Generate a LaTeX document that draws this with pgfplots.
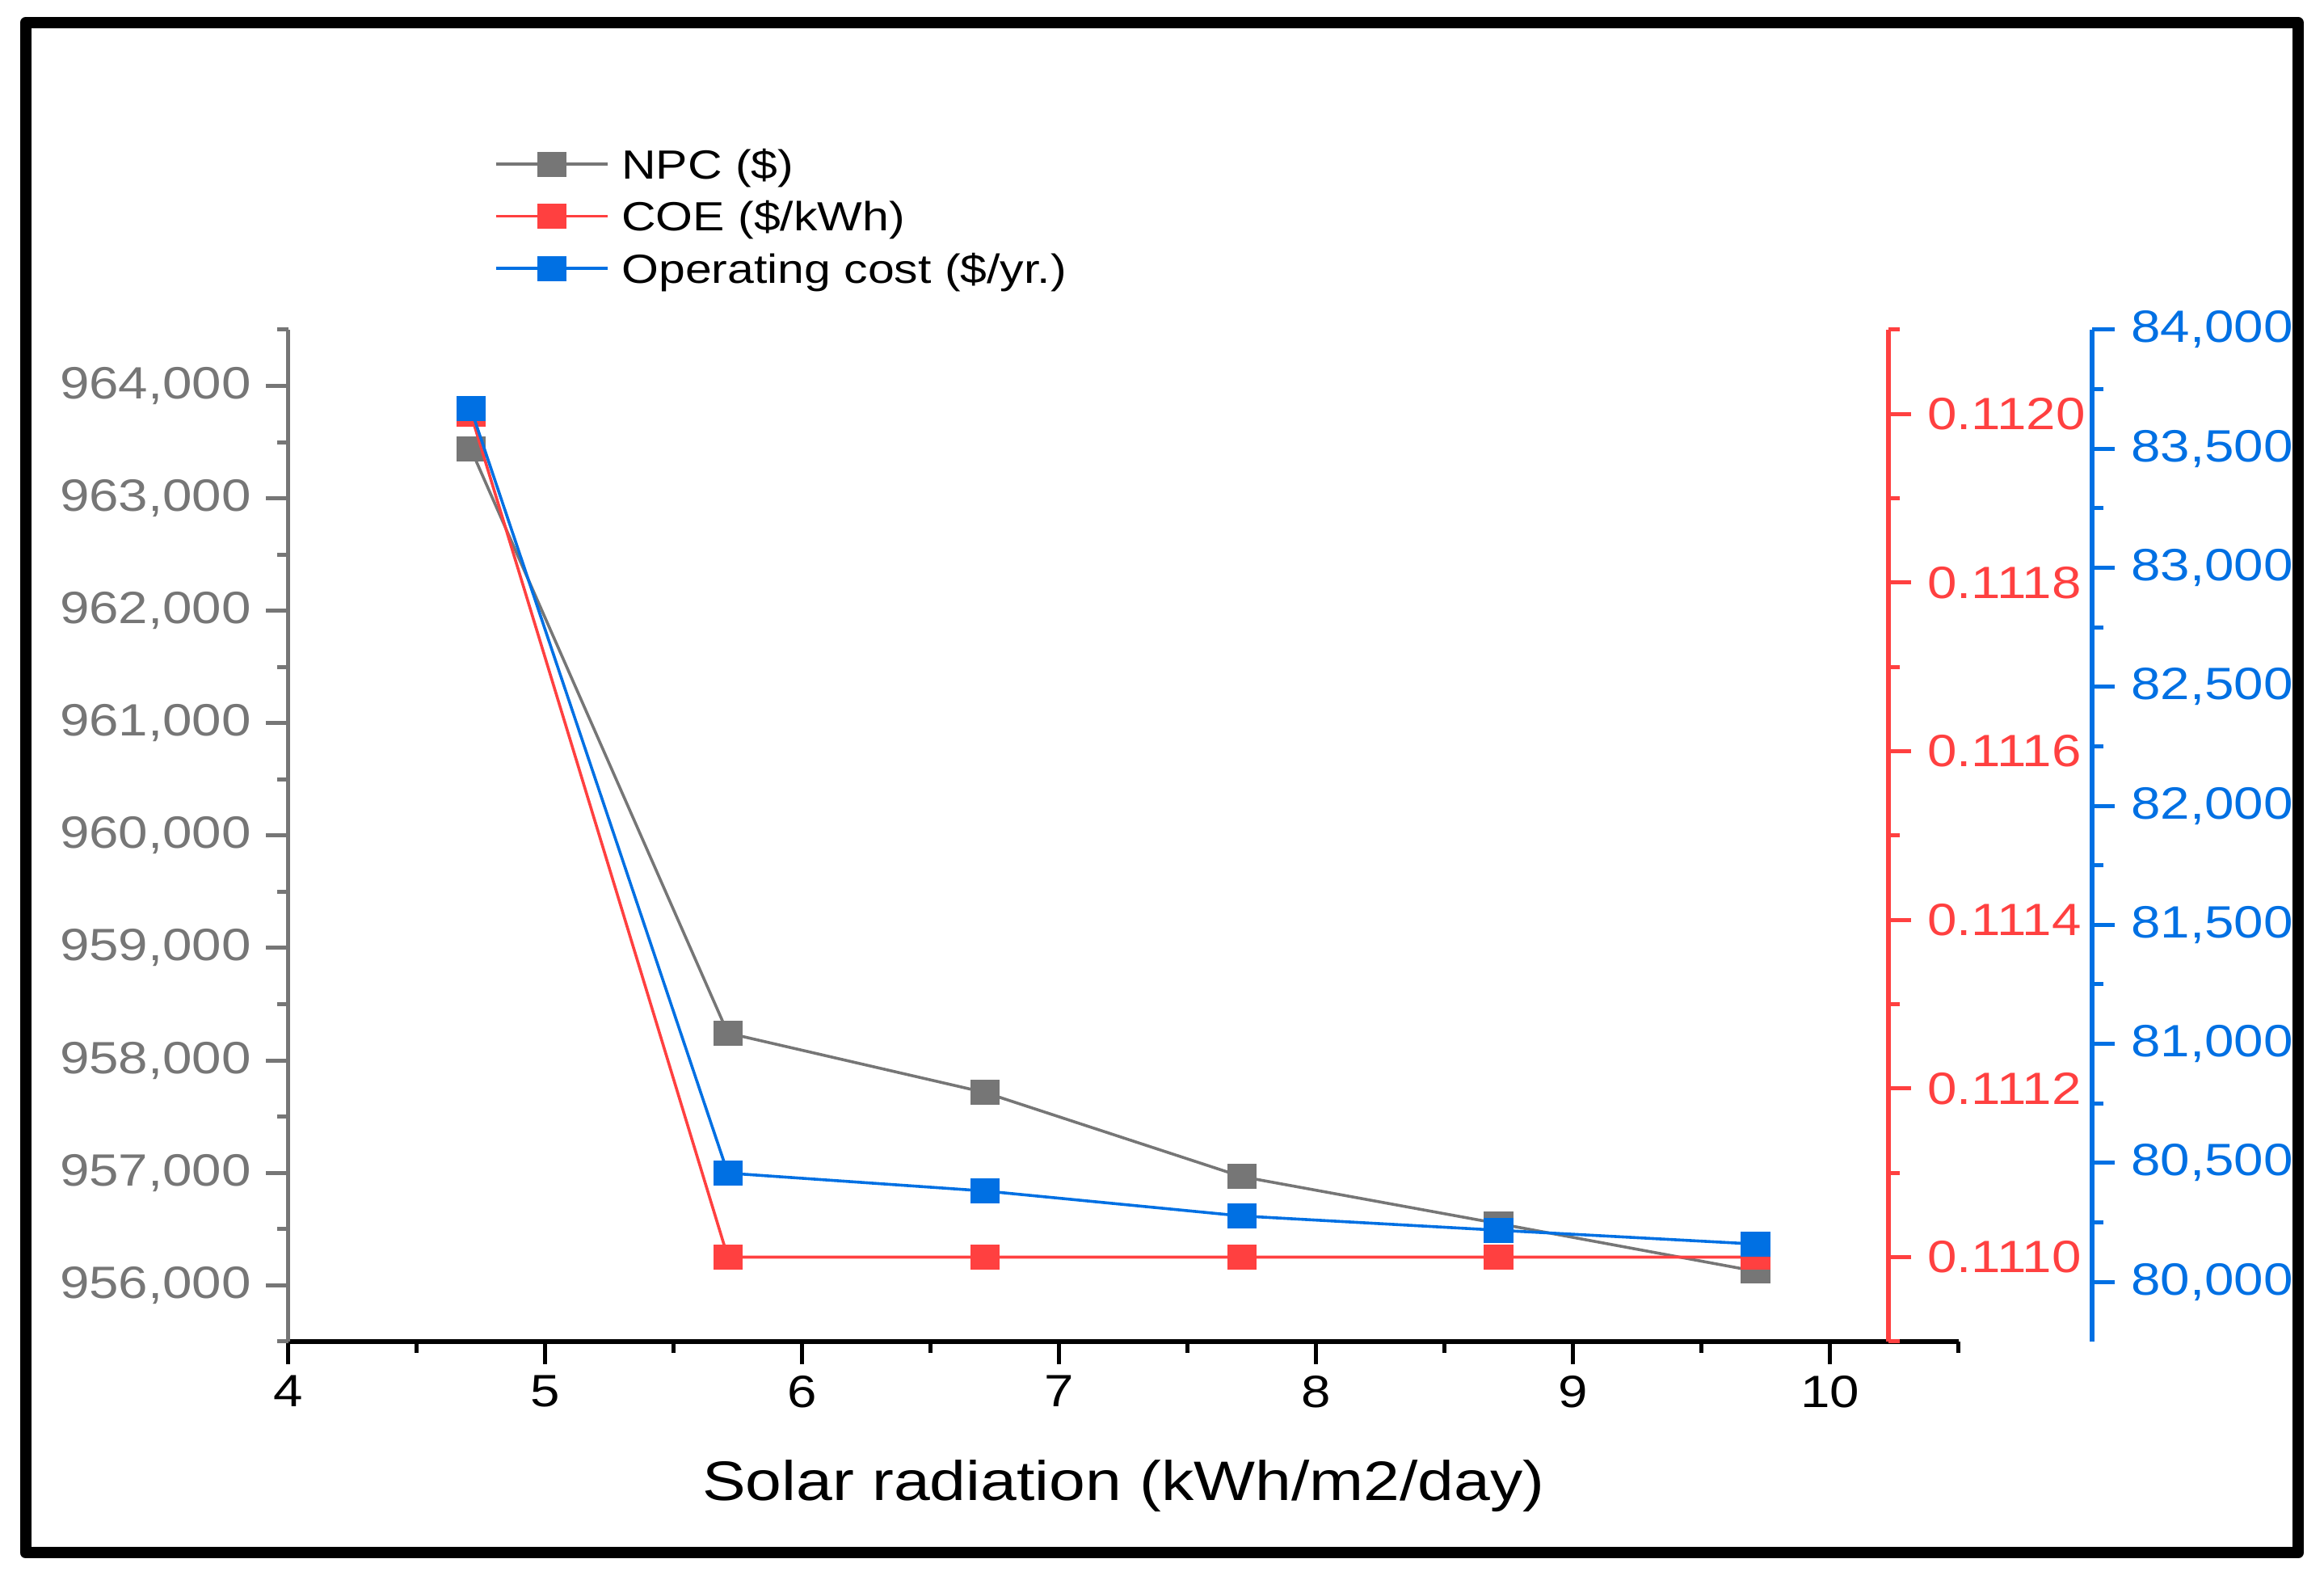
\documentclass[border=0pt]{standalone}
\usepackage{fontspec}
\setmainfont{Liberation Sans}[FakeStretch=1.17]
\usepackage{pgfplots}
\pgfplotsset{compat=1.18}
\definecolor{cgray}{RGB}{118,118,118}
\definecolor{cred}{RGB}{255,64,64}
\definecolor{cblue}{RGB}{0,112,227}
\pgfplotsset{
  common/.style={
    scale only axis, height=312.95pt,
    at={(89.25pt,73.8pt)}, anchor=south west,
    xmin=4,
    tick align=outside, major tick length=7pt, minor tick length=3.5pt,
    /pgf/number format/assume math mode=true,
    scaled y ticks=false, scaled x ticks=false,
    clip=false,
    every axis plot/.append style={line width=0.9pt},
  },
  mk/.style={mark=square*, mark size=3.75pt, mark options={solid, xscale=1.17, line width=0pt}},
}
\begin{document}
\begin{tikzpicture}
\useasboundingbox (0,0) rectangle (719pt,488.75pt);
\draw[line width=3.5pt, line join=round] (7.925pt,481.75pt) rectangle (711pt,8.375pt);
% main axis (NPC)
\begin{axis}[common, width=516.65pt, xmax=10.5,
  axis x line*=bottom, axis y line*=left,
  ymin=955500, ymax=964500,
  ytick={956000,957000,...,964000},
  minor ytick={955500,956500,...,964500},
  xtick={4,5,...,10},
  minor xtick={4.5,5.5,...,10.5},
  x axis line style={-, black, line width=1.5pt},
  y axis line style={-, cgray, line width=1.25pt},
  xtick style={black, line width=1.25pt},
  ytick style={cgray, line width=1.25pt},
  yticklabel={\pgfmathprintnumber[fixed,precision=0,1000 sep={,},assume math mode=true]{\tick}},
  yticklabel style={cgray, font=\fontsize{14}{16}\selectfont, xshift=-1pt},
  xticklabel style={black, font=\fontsize{14}{17}\selectfont},
  xlabel={Solar radiation (kWh/m2/day)},
  xlabel style={font=\fontsize{17.2}{21}\selectfont, at={(axis description cs:0.5,0)}, anchor=base, yshift=-49.3pt},
  legend style={at={(0.1229,1.1122)}, anchor=west, draw=none, fill=none,
    font=\fontsize{12.6}{15}\selectfont, inner sep=0pt, row sep=4.125pt,
    nodes={inner sep=0pt, text height=10.5pt, text depth=1.5pt},
    /tikz/every odd column/.append style={column sep=4pt}},
  legend cell align=left,
  legend image code/.code={\draw[#1, mark repeat=2, mark phase=2] plot coordinates {(0pt,0pt) (17.25pt,0pt) (34.5pt,0pt)};},
]
\addplot[cgray, mk] coordinates {(4.71,963438) (5.71,958243) (6.71,957715) (7.71,956966) (8.71,956548) (9.71,956125)};
\addlegendentry{NPC (\$)}
\addlegendimage{cred, mk, line width=0.9pt}
\addlegendentry{COE (\$/kWh)}
\addlegendimage{cblue, mk, line width=0.9pt}
\addlegendentry{Operating cost (\$/yr.)}
\end{axis}
% COE axis
\begin{axis}[common, width=495pt, xmax=10.2276,
  axis x line=none, axis y line*=right,
  ymin=0.1109, ymax=0.1121,
  ytick={0.1110,0.1112,0.1114,0.1116,0.1118,0.1120},
  minor ytick={0.1109,0.1111,0.1113,0.1115,0.1117,0.1119,0.1121},
  y axis line style={-, cred, line width=1.5pt},
  ytick style={cred, line width=1.25pt},
  yticklabel={\pgfmathprintnumber[fixed,fixed zerofill,precision=4,assume math mode=true]{\tick}},
  yticklabel style={cred, font=\fontsize{14}{16}\selectfont, xshift=1.5pt},
]
\addplot[cred, mk] coordinates {(4.71,0.1120) (5.71,0.1110) (6.71,0.1110) (7.71,0.1110) (8.71,0.1110) (9.71,0.1110)};
\end{axis}
% Operating cost axis
\begin{axis}[common, width=558pt, xmax=11.0202,
  axis x line=none, axis y line*=right,
  ymin=79750, ymax=84000,
  ytick={80000,80500,...,84000},
  minor ytick={80250,80750,...,83750},
  y axis line style={-, cblue, line width=1.5pt},
  ytick style={cblue, line width=1.25pt},
  yticklabel={\pgfmathprintnumber[fixed,precision=0,1000 sep={,},assume math mode=true]{\tick}},
  yticklabel style={cblue, font=\fontsize{14}{16}\selectfont, xshift=1.5pt},
]
\addplot[cblue, mk] coordinates {(4.71,83668) (5.71,80457) (6.71,80382) (7.71,80277) (8.71,80217) (9.71,80159)};
\end{axis}
\end{tikzpicture}
\end{document}
